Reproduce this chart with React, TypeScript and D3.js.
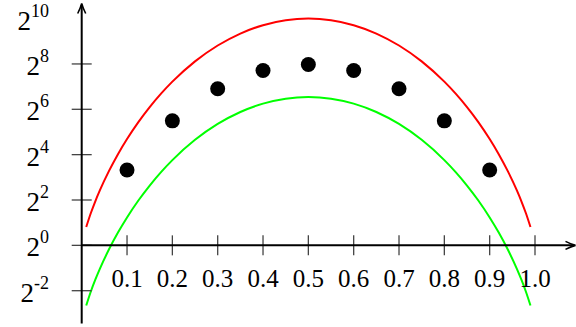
import React from "react";
import * as d3 from "d3";

const curveX = [0.01, 0.02, 0.03, 0.04, 0.06, 0.08, 0.1, 0.125, 0.15, 0.175, 0.2, 0.25, 0.3, 0.35, 0.4, 0.45, 0.5,
  0.55, 0.6, 0.65, 0.7, 0.75, 0.8, 0.825, 0.85, 0.875, 0.9, 0.92, 0.94, 0.96, 0.97, 0.98, 0.99];
const upperValues = [1.751, 2.665, 3.848, 5.363, 9.673, 16.25, 25.81, 43.29, 68.5, 103.25, 149.0, 276.9, 449.7, 648.5, 837.5, 974.2, 1024,
  974.2, 837.5, 648.5, 449.7, 276.9, 149.0, 103.25, 68.5, 43.29, 25.81, 16.25, 9.673, 5.363, 3.848, 2.665, 1.751];
const lowerValues = [0.1592, 0.2423, 0.3498, 0.4875, 0.8794, 1.477, 2.346, 3.935, 6.227, 9.386, 13.55, 25.17, 40.88, 58.95, 76.14, 88.56, 93.09,
  88.56, 76.14, 58.95, 40.88, 25.17, 13.55, 9.386, 6.227, 3.935, 2.346, 1.477, 0.8794, 0.4875, 0.3498, 0.2423, 0.1592];
const pointX = [0.1, 0.2, 0.3, 0.4, 0.5, 0.6, 0.7, 0.8, 0.9];
const pointValues = [10, 45, 120, 210, 252, 210, 120, 45, 10];
const xTicks = [0.1, 0.2, 0.3, 0.4, 0.5, 0.6, 0.7, 0.8, 0.9, 1.0];
const xTickLabels = ["0.1", "0.2", "0.3", "0.4", "0.5", "0.6", "0.7", "0.8", "0.9", "1.0"];
const yTickExps = [-2, 0, 2, 4, 6, 8, 10];
const yTickLabelExps = ["-2", "0", "2", "4", "6", "8", "10"];

const W = 576;
const H = 327;
const FONT = "'Liberation Serif', 'DejaVu Serif', serif";

export default function App() {
  const x = d3.scaleLinear().domain([0, 1]).range([81.7, 535]);
  const y = d3.scaleLog().base(2).domain([2 ** -2, 2 ** 10]).range([290.7, 18.6]);
  const axisX = x(0);
  const axisY = y(1);

  const line = d3
    .line<number>()
    .x((_, i) => x(curveX[i]))
    .y((d) => y(d))
    .curve(d3.curveMonotoneX);

  const arrowUp = (cx: number, cy: number) =>
    `M${cx - 4},${cy + 10} Q${cx - 1},${cy + 4} ${cx},${cy} Q${cx + 1},${cy + 4} ${cx + 4},${cy + 10}`;
  const arrowRight = (cx: number, cy: number) =>
    `M${cx - 10},${cy - 4} Q${cx - 4},${cy - 1} ${cx},${cy} Q${cx - 4},${cy + 1} ${cx - 10},${cy + 4}`;

  return (
    <svg
      width={W}
      height={H}
      viewBox={`0 0 ${W} ${H}`}
      style={{ position: "absolute", left: 0, top: 0, background: "#fff" }}
    >
      <path d={line(upperValues) || ""} fill="none" stroke="#ff0000" strokeWidth={2} />
      <path d={line(lowerValues) || ""} fill="none" stroke="#00ff00" strokeWidth={2} />

      {pointValues.map((v, i) => (
        <circle key={i} cx={x(pointX[i])} cy={y(v)} r={7.5} fill="#000" />
      ))}

      {yTickExps.filter((e) => e < 10).map((e) => (
        <line key={e} x1={axisX - 10} x2={axisX + 10} y1={y(2 ** e)} y2={y(2 ** e)} stroke="#444" strokeWidth={1.3} />
      ))}
      {xTicks.map((t) => (
        <line key={t} x1={x(t)} x2={x(t)} y1={axisY - 10} y2={axisY + 10} stroke="#444" strokeWidth={1.3} />
      ))}

      <line x1={axisX} x2={574} y1={axisY} y2={axisY} stroke="#000" strokeWidth={2} />
      <path d={arrowRight(575.5, axisY)} fill="none" stroke="#000" strokeWidth={1.6} />
      <line x1={axisX} x2={axisX} y1={323.5} y2={5} stroke="#000" strokeWidth={2} />
      <path d={arrowUp(axisX, 3.5)} fill="none" stroke="#000" strokeWidth={1.6} />

      {xTicks.map((t, i) => (
        <text key={t} x={x(t)} y={287} textAnchor="middle" fontFamily={FONT} fontSize={25} fill="#000">
          {xTickLabels[i]}
        </text>
      ))}

      {yTickExps.map((e, i) => (
        <text key={e} x={49} y={y(2 ** e) + 11} textAnchor="end" fontFamily={FONT} fill="#000">
          <tspan fontSize={27}>2</tspan>
          <tspan fontSize={18} dy={-13}>{yTickLabelExps[i]}</tspan>
        </text>
      ))}
    </svg>
  );
}
